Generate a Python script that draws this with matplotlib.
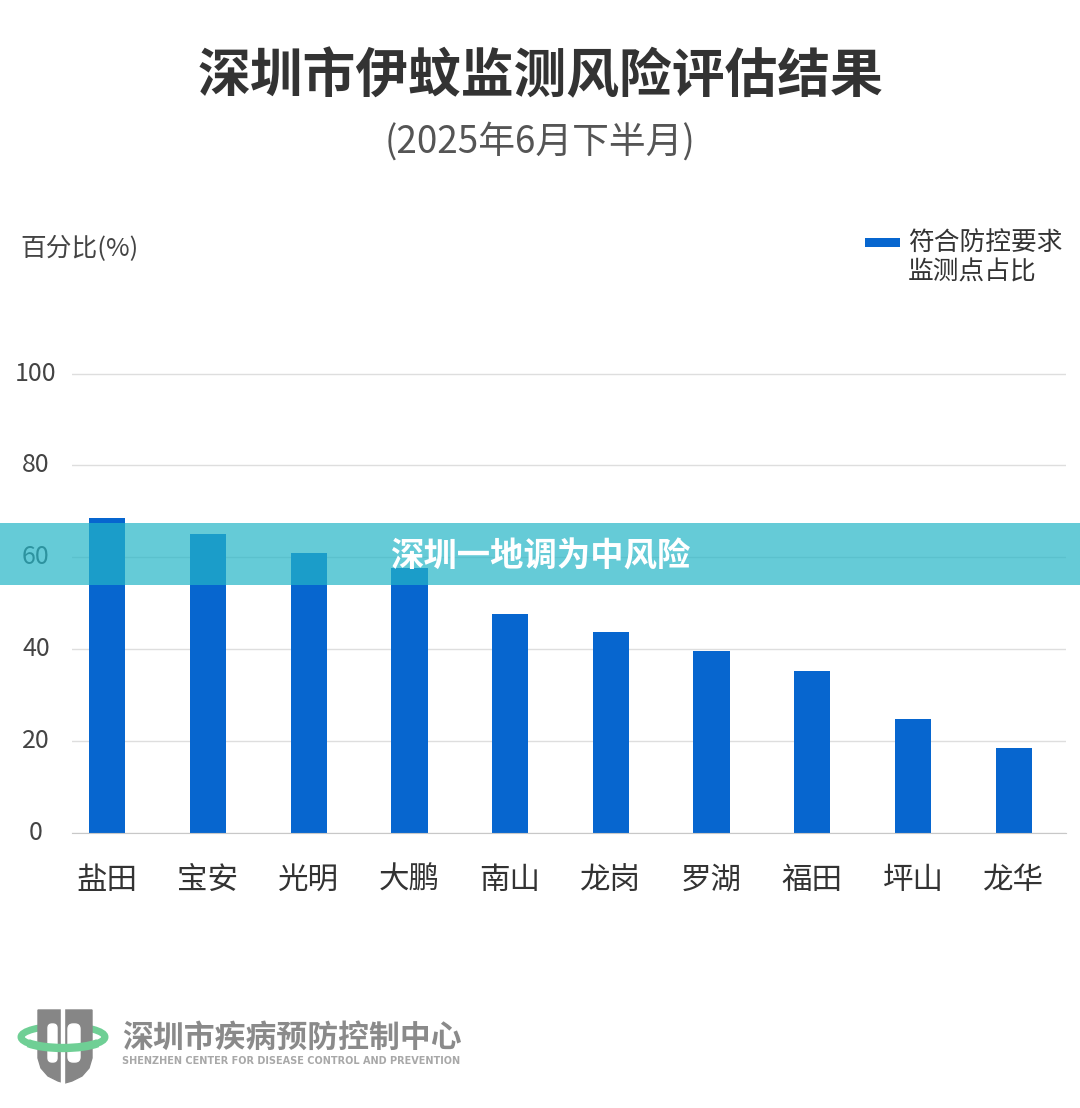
import matplotlib.pyplot as plt
from matplotlib.patches import Rectangle, Polygon, Ellipse, Arc, FancyBboxPatch

plt.rcParams['font.family'] = ['Noto Sans CJK SC', 'DejaVu Sans']

districts = ["盐田", "宝安", "光明", "大鹏", "南山", "龙岗", "罗湖", "福田", "坪山", "龙华"]
share = [68.6, 65.1, 60.9, 57.6, 47.6, 43.7, 39.7, 35.2, 24.9, 18.5]
yticks = [0, 20, 40, 60, 80, 100]

W, H = 1080, 1108
fig = plt.figure(figsize=(W / 100, H / 100), dpi=100)


def fx(px):
    return px / W


def fy(py):
    return 1 - py / H


# plot area: y=0 at 833px, y=100 at 373px
ax = fig.add_axes([fx(72), fy(833), fx(1066) - fx(72), fy(369) - fy(833)])
ax.bar(range(len(districts)), share, width=0.36, color="#0766cf", zorder=2)
ax.set_xlim(-0.35, 9.52)
ax.set_ylim(0, 101)
ax.set_yticks(yticks)
ax.set_xticks(range(len(districts)))
ax.set_xticklabels(districts)
ax.grid(axis="y", color="#dedede", lw=1, zorder=0)
for s in ["top", "right", "left"]:
    ax.spines[s].set_visible(False)
ax.spines["bottom"].set_color("#c8c8c8")
ax.tick_params(axis="y", length=0, pad=26, labelsize=18, labelcolor="#444444")
ax.tick_params(axis="x", length=0, pad=23, labelsize=22, labelcolor="#333333")
for lab in ax.get_yticklabels():
    lab.set_horizontalalignment("center")
    lab.set_verticalalignment("center")

# titles
fig.text(0.5, fy(77), "深圳市伊蚊监测风险评估结果", ha="center", va="center",
         fontsize=38, fontweight="bold", color="#333333")
fig.text(0.5, fy(142), "(2025年6月下半月)", ha="center", va="center",
         fontsize=26.5, color="#555555")
fig.text(fx(20), fy(249), "百分比(%)", ha="left", va="center",
         fontsize=18.5, color="#444444")

# legend
fig.patches.append(Rectangle((fx(865), fy(247)), fx(35), fy(238) - fy(247),
                             transform=fig.transFigure, color="#0766cf", lw=0))
fig.text(fx(908), fy(243), "符合防控要求", ha="left", va="center",
         fontsize=18.5, color="#333333")
fig.text(fx(908), fy(273), "监测点占比", ha="left", va="center",
         fontsize=18.5, color="#333333")

# overlay banner
fig.patches.append(Rectangle((0, fy(585)), 1, fy(523) - fy(585),
                             transform=fig.transFigure, facecolor="#24b5c7",
                             lw=0, alpha=0.7, zorder=5))
fig.text(0.5, fy(557), "深圳一地调为中风险", ha="center", va="center",
         fontsize=24, fontweight="heavy", color="white", zorder=6)

# logo
lg = fig.add_axes([0, 0, 1, 1], zorder=-1)
lg.set_xlim(0, W)
lg.set_ylim(H, 0)
lg.axis("off")
lg.add_patch(Ellipse((63, 1037), 84, 22, fill=False, ec="#6fcf95", lw=5, zorder=1))
shield = [(38, 1010), (92, 1010), (92, 1058), (89, 1068), (82, 1076), (72, 1081),
          (65, 1083), (58, 1081), (48, 1076), (41, 1068), (38, 1058)]
lg.add_patch(Polygon(shield, closed=True, color="#868686", zorder=2))
lg.add_patch(Rectangle((60.5, 1006), 3.5, 80, color="white", zorder=3))
lg.add_patch(FancyBboxPatch((48, 1024), 9, 38, boxstyle="round,pad=0,rounding_size=4",
                            color="white", zorder=3))
lg.add_patch(FancyBboxPatch((68, 1024), 12, 38, boxstyle="round,pad=0,rounding_size=5",
                            color="white", zorder=3))
lg.add_patch(Arc((63, 1037), 84, 22, theta1=10, theta2=170, ec="#6fcf95", lw=6, zorder=4))
fig.text(fx(122), fy(1038), "深圳市疾病预防控制中心", ha="left", va="center",
         fontsize=22.2, fontweight="bold", color="#8a8a8a")
fig.text(fx(122), fy(1061), "SHENZHEN CENTER FOR DISEASE CONTROL AND PREVENTION",
         ha="left", va="center", fontsize=7.0, fontweight="bold",
         family="Liberation Sans Narrow", color="#a8a8a8")

fig.savefig("out.png", dpi=100, facecolor="white")
